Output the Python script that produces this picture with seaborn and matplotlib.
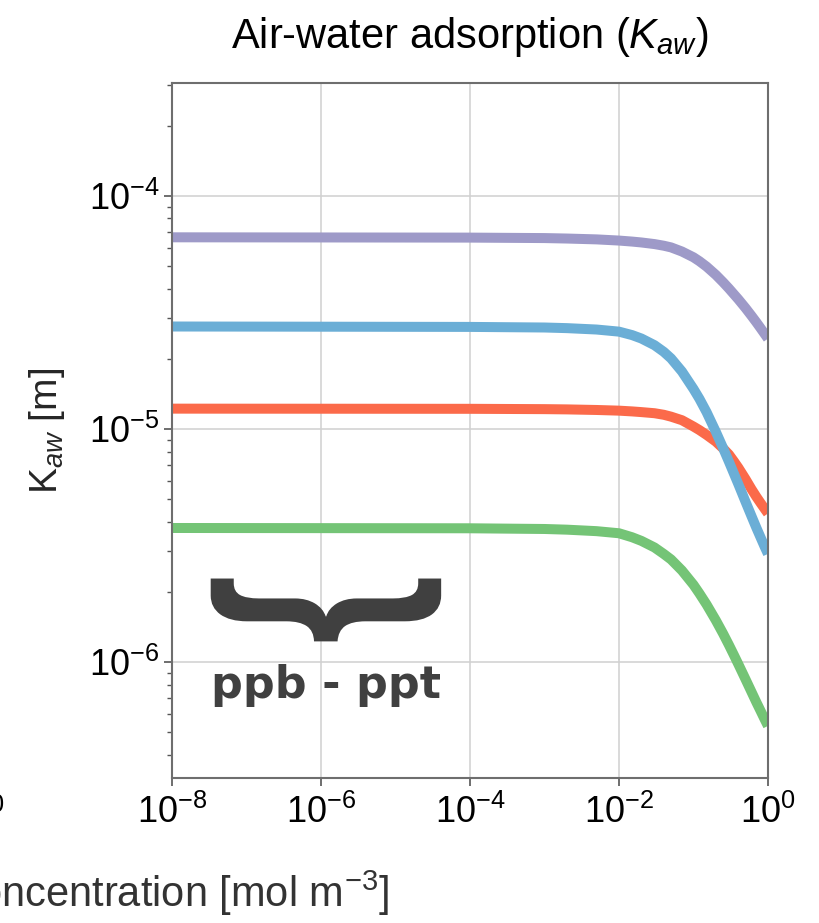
import numpy as np
import pandas as pd
import matplotlib
matplotlib.use("Agg")
import matplotlib.pyplot as plt
import seaborn as sns
from matplotlib.ticker import LogLocator, NullLocator, NullFormatter
from matplotlib.patheffects import AbstractPathEffect
from matplotlib.transforms import Affine2D

# ---- data ----
conc = [1e-8, 1e-4, 1e-3, 2e-3, 5e-3, 0.01, 0.015, 0.02, 0.03, 0.04, 0.05, 0.07, 0.1,
        0.12, 0.15, 0.2, 0.25, 0.3, 0.35, 0.4, 0.5, 0.6, 0.7, 0.8, 0.9, 1.0]
k_purple = [6.64e-5, 6.62e-5, 6.59e-5, 6.56e-5, 6.505e-5, 6.43e-5, 6.366e-5, 6.31e-5,
            6.21e-5, 6.11e-5, 6.01e-5, 5.77e-5, 5.45e-5, 5.245e-5, 4.97e-5, 4.58e-5,
            4.26e-5, 4.00e-5, 3.78e-5, 3.60e-5, 3.30e-5, 3.06e-5, 2.865e-5, 2.70e-5,
            2.56e-5, 2.44e-5]
k_blue = [2.751e-5, 2.740e-5, 2.724e-5, 2.707e-5, 2.670e-5, 2.615e-5, 2.527e-5, 2.443e-5,
          2.287e-5, 2.141e-5, 2.007e-5, 1.764e-5, 1.485e-5, 1.348e-5, 1.180e-5, 9.71e-6,
          8.27e-6, 7.22e-6, 6.42e-6, 5.80e-6, 4.87e-6, 4.23e-6, 3.76e-6, 3.41e-6,
          3.13e-6, 2.91e-6]
k_red = [1.222e-5, 1.220e-5, 1.216e-5, 1.213e-5, 1.206e-5, 1.198e-5, 1.189e-5, 1.181e-5,
         1.168e-5, 1.150e-5, 1.129e-5, 1.090e-5, 1.024e-5, 9.89e-6, 9.43e-6, 8.82e-6,
         8.25e-6, 7.76e-6, 7.25e-6, 6.82e-6, 6.09e-6, 5.52e-6, 5.11e-6, 4.80e-6,
         4.55e-6, 4.34e-6]
k_green = [3.759e-6, 3.748e-6, 3.722e-6, 3.697e-6, 3.643e-6, 3.568e-6, 3.430e-6, 3.309e-6,
           3.100e-6, 2.907e-6, 2.754e-6, 2.470e-6, 2.145e-6, 1.970e-6, 1.764e-6, 1.508e-6,
           1.323e-6, 1.181e-6, 1.069e-6, 9.79e-7, 8.43e-7, 7.45e-7, 6.71e-7, 6.15e-7,
           5.69e-7, 5.32e-7]
series_names = ["purple", "red", "blue", "green"]
series_colors = {"purple": "#9e9ac8", "blue": "#6baed6", "red": "#fb6a4a", "green": "#74c476"}
x_ticks = [1e-8, 1e-6, 1e-4, 1e-2, 1.0]

title_text = r"Air-water adsorption ($K_{aw}$)"
ylabel_text = r"K$_{aw}$ [m]"
xlabel_text = r"Concentration [mol m$^{-3}$]"
brace_text = "}"
note_text = "ppb - ppt"

frames = []
for name, vals in [("purple", k_purple), ("blue", k_blue), ("red", k_red), ("green", k_green)]:
    frames.append(pd.DataFrame({"conc": conc, "K": vals, "series": name}))
df = pd.concat(frames, ignore_index=True)

# ---- style ----
sns.set_theme(style="whitegrid")
plt.rcParams["font.family"] = ["Liberation Sans", "DejaVu Sans"]
plt.rcParams["mathtext.fontset"] = "custom"
plt.rcParams["mathtext.rm"] = "Liberation Sans"
plt.rcParams["mathtext.it"] = "Liberation Sans:italic"
plt.rcParams["mathtext.bf"] = "Liberation Sans:bold"
plt.rcParams["text.color"] = "black"
plt.rcParams["xtick.color"] = "black"
plt.rcParams["ytick.color"] = "black"

fig = plt.figure(figsize=(8.19, 9.23), dpi=100)
ax = fig.add_axes([0.2100, 0.1571, 0.7277, 0.7530])

sns.lineplot(data=df, x="conc", y="K", hue="series", hue_order=series_names,
             palette=series_colors, linewidth=7.2, legend=False, estimator=None,
             ax=ax)
for ln in ax.get_lines():
    ln.set_solid_capstyle("butt")
    ln.set_solid_joinstyle("round")

ax.set_xscale("log")
ax.set_yscale("log")
ax.set_xlim(1e-8, 1.0)
ax.set_ylim(3.18e-7, 3.05e-4)
ax.set_xticks(x_ticks)
ax.xaxis.set_minor_locator(NullLocator())
ax.yaxis.set_major_locator(LogLocator(base=10, numticks=10))
ax.yaxis.set_minor_locator(LogLocator(base=10, subs=np.arange(2, 10), numticks=20))
ax.yaxis.set_minor_formatter(NullFormatter())

ax.tick_params(axis="x", which="major", direction="out", length=6, width=1.2,
               color="#555555", labelsize=26, pad=6, bottom=True)
ax.tick_params(axis="y", which="major", direction="out", length=6, width=1.2,
               color="#555555", labelsize=26, pad=3, left=True)
ax.tick_params(axis="y", which="minor", direction="out", length=3.5, width=1.0,
               color="#555555", left=True)
for s in ax.spines.values():
    s.set_color("#6e6e6e")
    s.set_linewidth(1.5)
ax.grid(True, which="major", color="#d0d0d0", linewidth=1.1)
ax.grid(False, which="minor")

ax.set_xlabel("")
ax.set_ylabel(ylabel_text, fontsize=28, va="center")
ax.yaxis.set_label_coords((47 - 172) / 596.0, 0.5)
ax.set_title(title_text, fontsize=30, pad=25)


class Squash(AbstractPathEffect):
    """Scale the drawn glyph path about a fixed display point."""

    def __init__(self, sx, sy, center):
        super().__init__()
        self.sx, self.sy, self.center = sx, sy, center

    def draw_path(self, renderer, gc, tpath, affine, rgbFace=None):
        cx, cy = self.center
        extra = Affine2D().translate(-cx, -cy).scale(self.sx, self.sy).translate(cx, cy)
        renderer.draw_path(gc, tpath, affine + extra, rgbFace)


# annotation: brace and range text
bx, by = 0.2584, 0.2425
bcenter = ax.transAxes.transform((bx, by))
ax.text(bx, by, brace_text, transform=ax.transAxes, rotation=-90,
        fontsize=178, fontweight="bold", color="#404040", ha="center", va="center",
        family="Liberation Sans",
        path_effects=[Squash(1.0, 0.72, bcenter)])
ax.text(0.2584, 0.1151, note_text, transform=ax.transAxes, fontsize=32,
        fontweight="bold", color="#404040", ha="center", va="baseline",
        family="DejaVu Sans")

# shared x label of the (cropped) multi-panel figure and neighbour tick label
fig.text(-52 / 819, 1 - 907 / 923, xlabel_text, fontsize=30, color="#333333",
         ha="left", va="baseline")
fig.text(5 / 819, 1 - 827 / 923, r"10$^{0}$", fontsize=26, ha="right", va="baseline")

fig.savefig("out.png", dpi=100)
